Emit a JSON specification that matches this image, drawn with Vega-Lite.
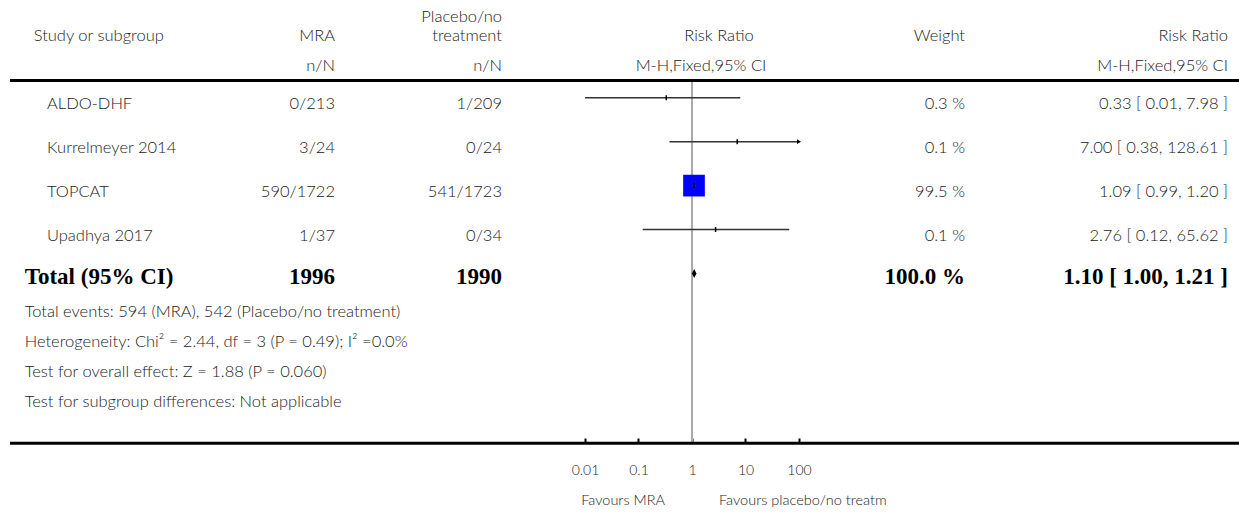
{
  "$schema": "https://vega.github.io/schema/vega-lite/v6.json",
  "padding": {"left": 8, "right": 0, "top": 0, "bottom": 0},
  "spacing": 0,
  "bounds": "flush",
  "background": "white",
  "config": {
    "view": {"stroke": null},
    "axis": {"grid": false},
    "text": {"font": "Lato", "fontSize": 16.5, "fontWeight": 300, "fill": "#222222", "baseline": "middle"}
  },
  "datasets": {
    "studies": [
      {"study": "ALDO-DHF", "mra": "0/213", "placebo": "1/209", "weight": 0.3, "weight_lbl": "0.3 %", "rr": 0.33, "lo": 0.01, "hi": 7.98, "rr_lbl": "0.33 [ 0.01, 7.98 ]", "row": 1},
      {"study": "Kurrelmeyer 2014", "mra": "3/24", "placebo": "0/24", "weight": 0.1, "weight_lbl": "0.1 %", "rr": 7.0, "lo": 0.38, "hi": 128.61, "rr_lbl": "7.00 [ 0.38, 128.61 ]", "row": 2},
      {"study": "TOPCAT", "mra": "590/1722", "placebo": "541/1723", "weight": 99.5, "weight_lbl": "99.5 %", "rr": 1.09, "lo": 0.99, "hi": 1.2, "rr_lbl": "1.09 [ 0.99, 1.20 ]", "row": 3},
      {"study": "Upadhya 2017", "mra": "1/37", "placebo": "0/34", "weight": 0.1, "weight_lbl": "0.1 %", "rr": 2.76, "lo": 0.12, "hi": 65.62, "rr_lbl": "2.76 [ 0.12, 65.62 ]", "row": 4}
    ],
    "total": [
      {"label": "Total (95% CI)", "mra": "1996", "placebo": "1990", "weight_lbl": "100.0 %", "rr": 1.1, "lo": 1.0, "hi": 1.21, "rr_lbl": "1.10 [ 1.00, 1.21 ]", "row": 5}
    ],
    "notes": [
      {"text": "Total events: 594 (MRA), 542 (Placebo/no treatment)", "row": 5.876},
      {"text": "Heterogeneity: Chi² = 2.44, df = 3 (P = 0.49); I² =0.0%", "row": 6.559},
      {"text": "Test for overall effect: Z = 1.88 (P = 0.060)", "row": 7.241},
      {"text": "Test for subgroup differences: Not applicable", "row": 7.924}
    ],
    "headers": [
      {"col": "study", "text": "Study or subgroup", "row": -0.404},
      {"col": "mra", "text": "MRA", "row": -0.404},
      {"col": "mra", "text": "n/N", "row": 0.29},
      {"col": "placebo", "text": "Placebo/no", "row": -0.83},
      {"col": "placebo", "text": "treatment", "row": -0.404},
      {"col": "placebo", "text": "n/N", "row": 0.29},
      {"col": "forest1", "text": "Risk Ratio", "row": -0.404},
      {"col": "forest2", "text": "M-H,Fixed,95% CI", "row": 0.29},
      {"col": "weight", "text": "Weight", "row": -0.404},
      {"col": "rr", "text": "Risk Ratio", "row": -0.404},
      {"col": "rr", "text": "M-H,Fixed,95% CI", "row": 0.29}
    ],
    "lines": [{"row": 0.6086}, {"row": 8.8635}],
    "nullline": [{"x": 1, "from": 0.6086, "to": 8.8635}],
    "favours": [
      {"side": "left", "text": "Favours MRA", "row": 10.177},
      {"side": "right", "text": "Favours placebo/no treatm", "row": 10.177}
    ]
  },
  "hconcat": [
    {
      "width": 325, "height": 513,
      "layer": [
        {"data": {"name": "lines"}, "mark": {"type": "rule", "strokeWidth": 3, "color": "black"},
         "encoding": {"y": {"field": "row", "type": "quantitative", "scale": {"domain": [-1.223, 10.4494], "reverse": true, "nice": false, "zero": false}, "axis": null}}},
        {"data": {"name": "headers"}, "transform": [{"filter": "datum.col === 'study'"}],
         "mark": {"type": "text", "align": "left", "dx": 23.7},
         "encoding": {"x": {"value": 0}, "y": {"field": "row", "type": "quantitative", "scale": {"domain": [-1.223, 10.4494], "reverse": true, "nice": false, "zero": false}, "axis": null}, "text": {"field": "text"}}},
        {"data": {"name": "headers"}, "transform": [{"filter": "datum.col === 'mra'"}],
         "mark": {"type": "text", "align": "right"},
         "encoding": {"x": {"value": "width"}, "y": {"field": "row", "type": "quantitative", "scale": {"domain": [-1.223, 10.4494], "reverse": true, "nice": false, "zero": false}, "axis": null}, "text": {"field": "text"}}},
        {"data": {"name": "studies"},
         "mark": {"type": "text", "align": "left", "dx": 37, "dy": 6},
         "encoding": {"x": {"value": 0}, "y": {"field": "row", "type": "quantitative", "scale": {"domain": [-1.223, 10.4494], "reverse": true, "nice": false, "zero": false}, "axis": null}, "text": {"field": "study"}}},
        {"data": {"name": "studies"},
         "mark": {"type": "text", "align": "right", "dy": 6},
         "encoding": {"x": {"value": "width"}, "y": {"field": "row", "type": "quantitative", "scale": {"domain": [-1.223, 10.4494], "reverse": true, "nice": false, "zero": false}, "axis": null}, "text": {"field": "mra"}}},
        {"data": {"name": "total"},
         "mark": {"type": "text", "align": "left", "dx": 14.7, "dy": 4, "font": "Liberation Serif", "fontWeight": "bold", "fontSize": 23, "fill": "black"},
         "encoding": {"x": {"value": 0}, "y": {"field": "row", "type": "quantitative", "scale": {"domain": [-1.223, 10.4494], "reverse": true, "nice": false, "zero": false}, "axis": null}, "text": {"field": "label"}}},
        {"data": {"name": "total"},
         "mark": {"type": "text", "align": "right", "dy": 4, "font": "Liberation Serif", "fontWeight": "bold", "fontSize": 23, "fill": "black"},
         "encoding": {"x": {"value": "width"}, "y": {"field": "row", "type": "quantitative", "scale": {"domain": [-1.223, 10.4494], "reverse": true, "nice": false, "zero": false}, "axis": null}, "text": {"field": "mra"}}},
        {"data": {"name": "notes"},
         "mark": {"type": "text", "align": "left", "dx": 14.7},
         "encoding": {"x": {"value": 0}, "y": {"field": "row", "type": "quantitative", "scale": {"domain": [-1.223, 10.4494], "reverse": true, "nice": false, "zero": false}, "axis": null}, "text": {"field": "text"}}}
      ]
    },
    {
      "width": 250, "height": 513,
      "layer": [
        {"data": {"name": "lines"}, "mark": {"type": "rule", "strokeWidth": 3, "color": "black"},
         "encoding": {"y": {"field": "row", "type": "quantitative", "scale": {"domain": [-1.223, 10.4494], "reverse": true, "nice": false, "zero": false}, "axis": null}}},
        {"data": {"name": "headers"}, "transform": [{"filter": "datum.col === 'placebo'"}],
         "mark": {"type": "text", "align": "right", "dx": -83},
         "encoding": {"x": {"value": "width"}, "y": {"field": "row", "type": "quantitative", "scale": {"domain": [-1.223, 10.4494], "reverse": true, "nice": false, "zero": false}, "axis": null}, "text": {"field": "text"}}},
        {"data": {"name": "studies"},
         "mark": {"type": "text", "align": "right", "dx": -83, "dy": 6},
         "encoding": {"x": {"value": "width"}, "y": {"field": "row", "type": "quantitative", "scale": {"domain": [-1.223, 10.4494], "reverse": true, "nice": false, "zero": false}, "axis": null}, "text": {"field": "placebo"}}},
        {"data": {"name": "total"},
         "mark": {"type": "text", "align": "right", "dx": -83, "dy": 4, "font": "Liberation Serif", "fontWeight": "bold", "fontSize": 23, "fill": "black"},
         "encoding": {"x": {"value": "width"}, "y": {"field": "row", "type": "quantitative", "scale": {"domain": [-1.223, 10.4494], "reverse": true, "nice": false, "zero": false}, "axis": null}, "text": {"field": "placebo"}}}
      ]
    },
    {
      "width": 214, "height": 443,
      "layer": [
        {"data": {"name": "nullline"}, "mark": {"type": "rule", "color": "#aaaaaa", "strokeWidth": 2},
         "encoding": {
           "x": {"field": "x", "type": "quantitative", "scale": {"type": "log", "domain": [0.01, 100], "nice": false},
                 "axis": {"orient": "bottom", "values": [0.01, 0.1, 1, 10, 100], "format": "~g", "domain": false, "grid": false, "ticks": true, "tickSize": -5, "tickWidth": 2, "tickColor": "black", "labelPadding": 25, "labelFont": "Lato", "labelFontWeight": 300, "labelFontSize": 14, "labelColor": "#222222", "labelFlush": false, "labelOverlap": false, "title": null}},
           "y": {"field": "from", "type": "quantitative", "scale": {"domain": [-1.223, 8.8566], "reverse": true, "nice": false, "zero": false}, "axis": null},
           "y2": {"field": "to"}}},
        {"data": {"name": "lines"}, "mark": {"type": "rule", "strokeWidth": 3, "color": "black"},
         "encoding": {"y": {"field": "row", "type": "quantitative", "scale": {"domain": [-1.223, 8.8566], "reverse": true, "nice": false, "zero": false}, "axis": null}}},
        {"data": {"name": "studies"}, "mark": {"type": "point", "shape": "square", "filled": true, "color": "#0000ff", "opacity": 1, "strokeWidth": 0},
         "encoding": {
           "x": {"field": "rr", "type": "quantitative", "scale": {"type": "log", "domain": [0.01, 100], "nice": false}},
           "y": {"field": "row", "type": "quantitative", "scale": {"domain": [-1.223, 8.8566], "reverse": true, "nice": false, "zero": false}, "axis": null},
           "size": {"field": "weight", "type": "quantitative", "scale": {"domain": [0, 100], "range": [0, 473]}, "legend": null}}},
        {"data": {"name": "studies"}, "mark": {"type": "rule", "color": "#333333", "strokeWidth": 1.5, "clip": true},
         "encoding": {
           "x": {"field": "lo", "type": "quantitative", "scale": {"type": "log", "domain": [0.01, 100], "nice": false}},
           "x2": {"field": "hi"},
           "y": {"field": "row", "type": "quantitative", "scale": {"domain": [-1.223, 8.8566], "reverse": true, "nice": false, "zero": false}, "axis": null}}},
        {"data": {"name": "studies"}, "mark": {"type": "tick", "orient": "vertical", "size": 5, "thickness": 1.5, "color": "black", "opacity": 1},
         "encoding": {
           "x": {"field": "rr", "type": "quantitative", "scale": {"type": "log", "domain": [0.01, 100], "nice": false}},
           "y": {"field": "row", "type": "quantitative", "scale": {"domain": [-1.223, 8.8566], "reverse": true, "nice": false, "zero": false}, "axis": null}}},
        {"data": {"name": "studies"}, "transform": [{"filter": "datum.hi > 100"}],
         "mark": {"type": "point", "shape": "triangle-right", "filled": true, "color": "black", "size": 22, "opacity": 1, "dx": -2},
         "encoding": {
           "x": {"datum": 100, "type": "quantitative", "scale": {"type": "log", "domain": [0.01, 100], "nice": false}},
           "y": {"field": "row", "type": "quantitative", "scale": {"domain": [-1.223, 8.8566], "reverse": true, "nice": false, "zero": false}, "axis": null}}},
        {"data": {"name": "total"}, "mark": {"type": "point", "shape": "M-0.5,0L0,-1L0.5,0L0,1Z", "filled": true, "color": "black", "size": 81, "opacity": 1},
         "encoding": {
           "x": {"field": "rr", "type": "quantitative", "scale": {"type": "log", "domain": [0.01, 100], "nice": false}},
           "y": {"field": "row", "type": "quantitative", "scale": {"domain": [-1.223, 8.8566], "reverse": true, "nice": false, "zero": false}, "axis": null}}},
        {"data": {"name": "headers"}, "transform": [{"filter": "datum.col === 'forest1'"}],
         "mark": {"type": "text", "align": "center", "dx": 27},
         "encoding": {
           "x": {"datum": 1, "type": "quantitative", "scale": {"type": "log", "domain": [0.01, 100], "nice": false}},
           "y": {"field": "row", "type": "quantitative", "scale": {"domain": [-1.223, 8.8566], "reverse": true, "nice": false, "zero": false}, "axis": null},
           "text": {"field": "text"}}},
        {"data": {"name": "headers"}, "transform": [{"filter": "datum.col === 'forest2'"}],
         "mark": {"type": "text", "align": "center", "dx": 9},
         "encoding": {
           "x": {"datum": 1, "type": "quantitative", "scale": {"type": "log", "domain": [0.01, 100], "nice": false}},
           "y": {"field": "row", "type": "quantitative", "scale": {"domain": [-1.223, 8.8566], "reverse": true, "nice": false, "zero": false}, "axis": null},
           "text": {"field": "text"}}},
        {"data": {"name": "favours"}, "transform": [{"filter": "datum.side === 'left'"}],
         "mark": {"type": "text", "align": "right", "dx": -27, "fontSize": 14.5},
         "encoding": {
           "x": {"datum": 1, "type": "quantitative", "scale": {"type": "log", "domain": [0.01, 100], "nice": false}},
           "y": {"field": "row", "type": "quantitative", "scale": {"domain": [-1.223, 8.8566], "reverse": true, "nice": false, "zero": false}, "axis": null},
           "text": {"field": "text"}}},
        {"data": {"name": "favours"}, "transform": [{"filter": "datum.side === 'right'"}],
         "mark": {"type": "text", "align": "left", "dx": 27, "fontSize": 14.5},
         "encoding": {
           "x": {"datum": 1, "type": "quantitative", "scale": {"type": "log", "domain": [0.01, 100], "nice": false}},
           "y": {"field": "row", "type": "quantitative", "scale": {"domain": [-1.223, 8.8566], "reverse": true, "nice": false, "zero": false}, "axis": null},
           "text": {"field": "text"}}}
      ]
    },
    {
      "width": 166, "height": 513,
      "layer": [
        {"data": {"name": "lines"}, "mark": {"type": "rule", "strokeWidth": 3, "color": "black"},
         "encoding": {"y": {"field": "row", "type": "quantitative", "scale": {"domain": [-1.223, 10.4494], "reverse": true, "nice": false, "zero": false}, "axis": null}}},
        {"data": {"name": "headers"}, "transform": [{"filter": "datum.col === 'weight'"}],
         "mark": {"type": "text", "align": "right"},
         "encoding": {"x": {"value": "width"}, "y": {"field": "row", "type": "quantitative", "scale": {"domain": [-1.223, 10.4494], "reverse": true, "nice": false, "zero": false}, "axis": null}, "text": {"field": "text"}}},
        {"data": {"name": "studies"},
         "mark": {"type": "text", "align": "right", "dy": 6},
         "encoding": {"x": {"value": "width"}, "y": {"field": "row", "type": "quantitative", "scale": {"domain": [-1.223, 10.4494], "reverse": true, "nice": false, "zero": false}, "axis": null}, "text": {"field": "weight_lbl"}}},
        {"data": {"name": "total"},
         "mark": {"type": "text", "align": "right", "dy": 4, "font": "Liberation Serif", "fontWeight": "bold", "fontSize": 23, "fill": "black"},
         "encoding": {"x": {"value": "width"}, "y": {"field": "row", "type": "quantitative", "scale": {"domain": [-1.223, 10.4494], "reverse": true, "nice": false, "zero": false}, "axis": null}, "text": {"field": "weight_lbl"}}}
      ]
    },
    {
      "width": 276, "height": 513,
      "layer": [
        {"data": {"name": "lines"}, "mark": {"type": "rule", "strokeWidth": 3, "color": "black"},
         "encoding": {"y": {"field": "row", "type": "quantitative", "scale": {"domain": [-1.223, 10.4494], "reverse": true, "nice": false, "zero": false}, "axis": null}}},
        {"data": {"name": "headers"}, "transform": [{"filter": "datum.col === 'rr'"}],
         "mark": {"type": "text", "align": "right", "dx": -13},
         "encoding": {"x": {"value": "width"}, "y": {"field": "row", "type": "quantitative", "scale": {"domain": [-1.223, 10.4494], "reverse": true, "nice": false, "zero": false}, "axis": null}, "text": {"field": "text"}}},
        {"data": {"name": "studies"},
         "mark": {"type": "text", "align": "right", "dx": -13, "dy": 6},
         "encoding": {"x": {"value": "width"}, "y": {"field": "row", "type": "quantitative", "scale": {"domain": [-1.223, 10.4494], "reverse": true, "nice": false, "zero": false}, "axis": null}, "text": {"field": "rr_lbl"}}},
        {"data": {"name": "total"},
         "mark": {"type": "text", "align": "right", "dx": -13, "dy": 4, "font": "Liberation Serif", "fontWeight": "bold", "fontSize": 23, "fill": "black"},
         "encoding": {"x": {"value": "width"}, "y": {"field": "row", "type": "quantitative", "scale": {"domain": [-1.223, 10.4494], "reverse": true, "nice": false, "zero": false}, "axis": null}, "text": {"field": "rr_lbl"}}}
      ]
    }
  ]
}
